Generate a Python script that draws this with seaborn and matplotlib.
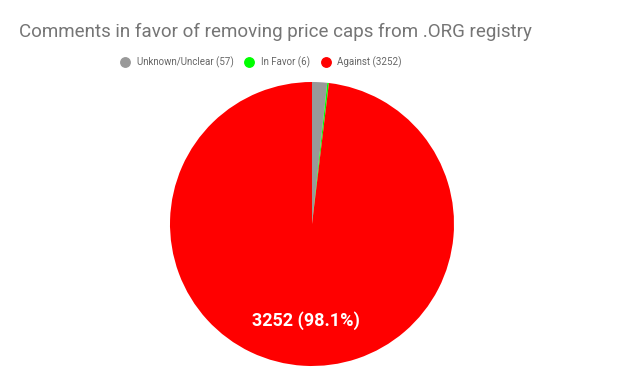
import matplotlib
matplotlib.use("Agg")
import matplotlib.pyplot as plt
from matplotlib.lines import Line2D
import seaborn as sns

# data
labels = ["Unknown/Unclear", "In Favor", "Against"]
counts = [57, 6, 3252]
colors = ["#999999", "#00ff00", "#ff0000"]

sns.set_theme(style="white")
plt.rcParams["font.family"] = ["Roboto", "DejaVu Sans"]

W, H = 625, 386
fig = plt.figure(figsize=(W / 100, H / 100), dpi=100)

# pie area: center (312,224), radius 142 px
ax = fig.add_axes([170 / W, (H - 366) / H, 284 / W, 284 / H])
total = sum(counts)

def fmt(p):
    v = round(p * total / 100)
    return f"{v} ({p:.1f}%)" if p > 50 else ""

wedges, texts, autotexts = ax.pie(counts, colors=colors, startangle=90, counterclock=False,
                                  autopct=fmt, pctdistance=0.68,
                                  wedgeprops=dict(linewidth=0),
                                  textprops=dict(color="white", fontsize=13, fontweight="bold"))
ax.set_xlim(-1, 1)
ax.set_ylim(-1, 1)
ax.set_aspect("equal")

fig.text(19 / W, 1 - 32 / H, "Comments in favor of removing price caps from .ORG registry",
         fontsize=13.5, color="#757575", va="center", ha="left")

handles = [Line2D([], [], marker="o", linestyle="", markersize=6.8, markerfacecolor=c,
                  markeredgecolor=c) for c in colors]
leg_labels = [f"{l} ({c})" for l, c in zip(labels, counts)]
fig.legend(handles, leg_labels, loc="center", bbox_to_anchor=(261 / W, 1 - 62 / H), ncol=3,
           frameon=False, fontsize=7, labelcolor="#666666", handletextpad=0.7,
           columnspacing=1.1, handlelength=1.0)

fig.savefig("out.png", dpi=100)
